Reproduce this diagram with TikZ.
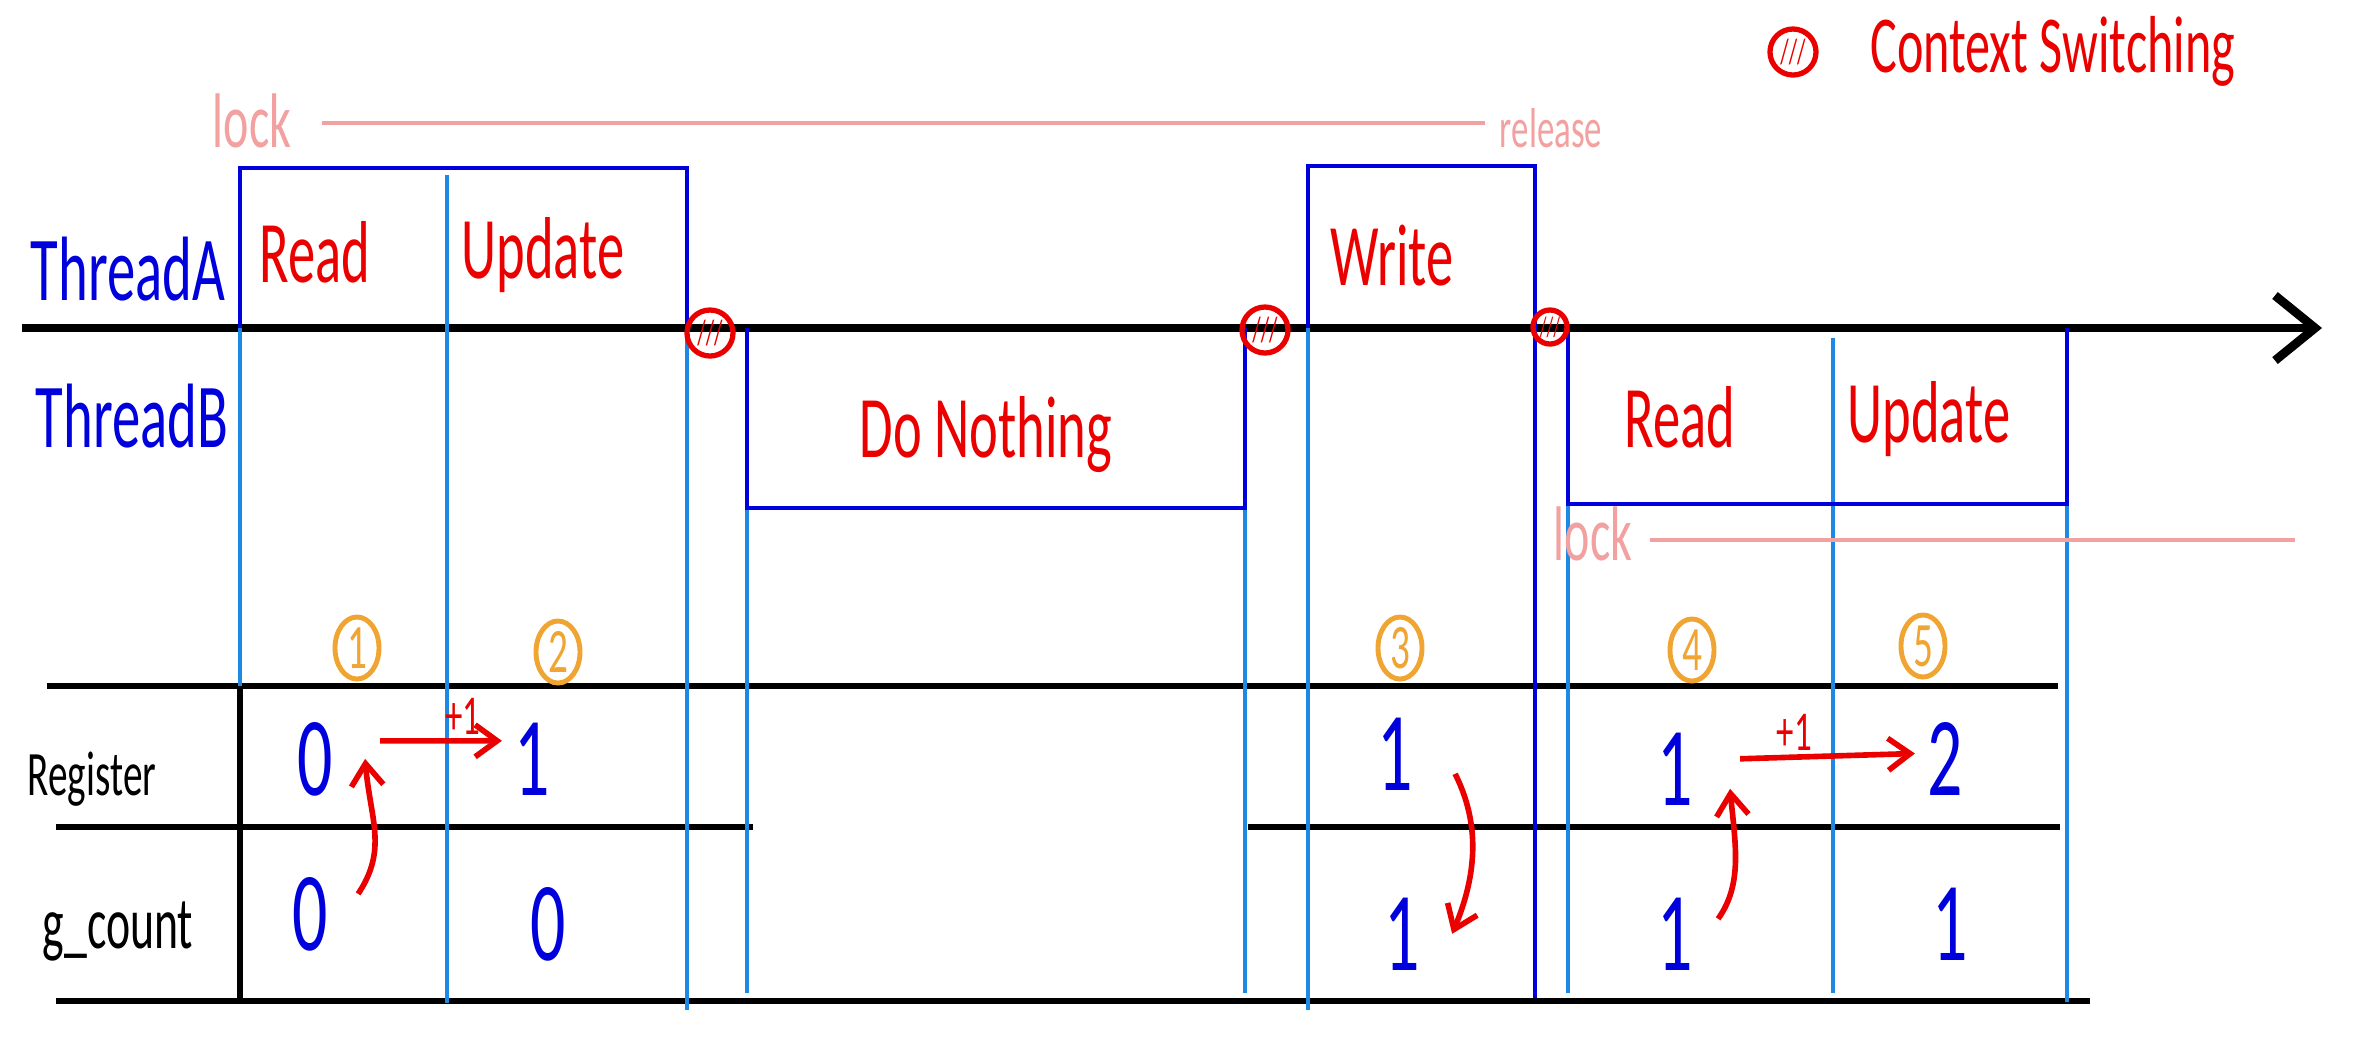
\documentclass[tikz,border=0pt]{standalone}
\usepackage{fontspec}
\setmainfont{Carlito}[FakeStretch=0.62]
\usetikzlibrary{arrows.meta, positioning, shapes.geometric}
\definecolor{tblue}{RGB}{0,0,220}
\definecolor{lblue}{RGB}{30,136,229}
\definecolor{tred}{RGB}{235,0,0}
\definecolor{torange}{RGB}{240,165,50}
\definecolor{lpink}{RGB}{242,160,160}
\newcommand{\fsz}[1]{\fontsize{#1}{#1}\selectfont}

\begin{document}
\begin{tikzpicture}[x=0.01cm, y=-0.01cm,
    thrbox/.style={draw=tblue, line width=1.4pt},
    guide/.style={draw=lblue, line width=1.1pt},
    tabline/.style={draw=black, line width=1.6pt},
    lockline/.style={draw=lpink, line width=1.4pt},
    thr/.style={anchor=base, text=tblue, font=\fsz{26}},
    phase/.style={anchor=base, text=tred, font=\fsz{25}},
    rowlbl/.style={anchor=base},
    val/.style={anchor=base, text=tblue, font=\fsz{32}},
    locklbl/.style={anchor=base, text=lpink},
    stepno/.style={ellipse, draw=torange, line width=1.4pt, text=torange,
        minimum width=0.44cm, minimum height=0.62cm, inner sep=0pt, font=\fsz{18}},
    ctxsw/.style={circle, draw=tred, line width=1.5pt, text=tred,
        minimum size=0.46cm, inner sep=0pt, font=\fsz{10}},
    incr/.style={draw=tred, line width=1.6pt, -{Straight Barb[length=2.2mm, width=3.2mm]}},
    incrlbl/.style={text=tred, font=\fsz{16}, inner sep=1pt}]

\useasboundingbox (0,0) rectangle (2353,1041);

% time axis
\coordinate (axL) at (22,328);
\coordinate (axR) at (2322,328);
\draw[line width=2.5pt, -{Straight Barb[length=4mm, width=6.5mm]}] (axL) -- (axR);

% table
\draw[tabline] (47,686) -- (2058,686);
\draw[tabline] (56,827) -- (753,827) (1248,827) -- (2060,827);
\draw[tabline] (56,1001) -- (2090,1001);
\draw[tabline] (240,686) -- (240,1001);

% time slices
\foreach \x/\ya/\yb in {240/328/686, 447/175/1003, 687/328/1010, 747/508/993,
    1245/508/993, 1308/328/1010, 1568/504/993, 1833/338/993, 2067/504/1002}
  \draw[guide] (\x,\ya) -- (\x,\yb);

% thread boxes
\draw[thrbox] (240,328) |- (687,168) -- (687,328);
\draw[thrbox] (1308,328) |- (1535,166) -- (1535,998);
\draw[thrbox] (747,328) |- (1245,508) -- (1245,328);
\draw[thrbox] (1568,328) |- (2067,504) -- (2067,328);

\node[thr] (thA) at (128,300) {ThreadA};
\node[thr] (thB) at (132,447) {ThreadB};

\node[phase] (rdA) at (315,282) {Read};
\node[phase] (upA) at (543,278) {Update};
\node[phase] (noop) at (986,457) {Do Nothing};
\node[phase] (wrA) at (1392,285) {Write};
\node[phase] (rdB) at (1680,447) {Read};
\node[phase] (upB) at (1929,442) {Update};

% context switches
\node[ctxsw] (cs1) at (710,333) {///};
\node[ctxsw] (cs2) at (1265,330) {///};
\node[ctxsw, minimum size=0.34cm, font=\fsz{8}] (cs3) at (1550,327) {///};

% locks
\node[locklbl, font=\fsz{22}] (lkA) at (252,147) {lock};
\node[locklbl, font=\fsz{16}] (relA) at (1551,147) {release};
\coordinate (lkAs) at (322,123);
\coordinate (relAe) at (1485,123);
\draw[lockline] (lkAs) -- (relAe);
\node[locklbl, font=\fsz{22}] (lkB) at (1593,560) {lock};
\coordinate (lkBs) at (1650,540);
\coordinate (lkBe) at (2295,540);
\draw[lockline] (lkBs) -- (lkBe);

% legend
\node[ctxsw, minimum size=0.46cm] (csKey) at (1793,52) {///};
\node[anchor=base west, text=tred, font=\fsz{23}] (keyTxt) at (1858,72) {Context Switching};

% steps
\node[stepno] (s1) at (357,648) {1};
\node[stepno] (s2) at (558,652) {2};
\node[stepno] (s3) at (1400,648) {3};
\node[stepno] (s4) at (1692,650) {4};
\node[stepno] (s5) at (1923,646) {5};

% table rows
\node[rowlbl, font=\fsz{18}] (regL) at (92,795) {Register};
\node[rowlbl, font=\fsz{21}] (gcL) at (118,948) {g\_count};

\node[val] (r1) at (315,795) {0};
\node[val] (r2) at (532,795) {1};
\node[val] (r3) at (1395,790) {1};
\node[val] (r4) at (1675,805) {1};
\node[val] (r5) at (1945,795) {2};

\node[val] (g1) at (310,950) {0};
\node[val] (g2) at (548,960) {0};
\node[val] (g3) at (1402,970) {1};
\node[val] (g4) at (1675,970) {1};
\node[val] (g5) at (1950,960) {1};

% register / memory moves
\draw[incr] ([shift={(0.18cm,0.2cm)}]g1.east) .. controls +(30,-45) and +(5,60) .. ([xshift=0.2cm]r1.east);
\draw[incr] ([shift={(0.35cm,0.18cm)}]r1.east) -- ([yshift=0.18cm]r2.west)
  node[pos=0.68, above, incrlbl] (p1) {+1};
\draw[incr] ([shift={(0.3cm,-0.2cm)}]r3.east) .. controls +(25,50) and +(25,-60) .. ([xshift=0.2cm]g3.east);
\draw[incr] ([shift={(0.13cm,0.15cm)}]g4.east) .. controls +(25,-35) and +(5,55) .. ([shift={(0.25cm,-0.2cm)}]r4.east);
\draw[incr] ([shift={(0.35cm,0.1cm)}]r4.east) -- ([yshift=0.05cm]r5.west)
  node[pos=0.31, above, incrlbl] (p2) {+1};
\end{tikzpicture}
\end{document}
